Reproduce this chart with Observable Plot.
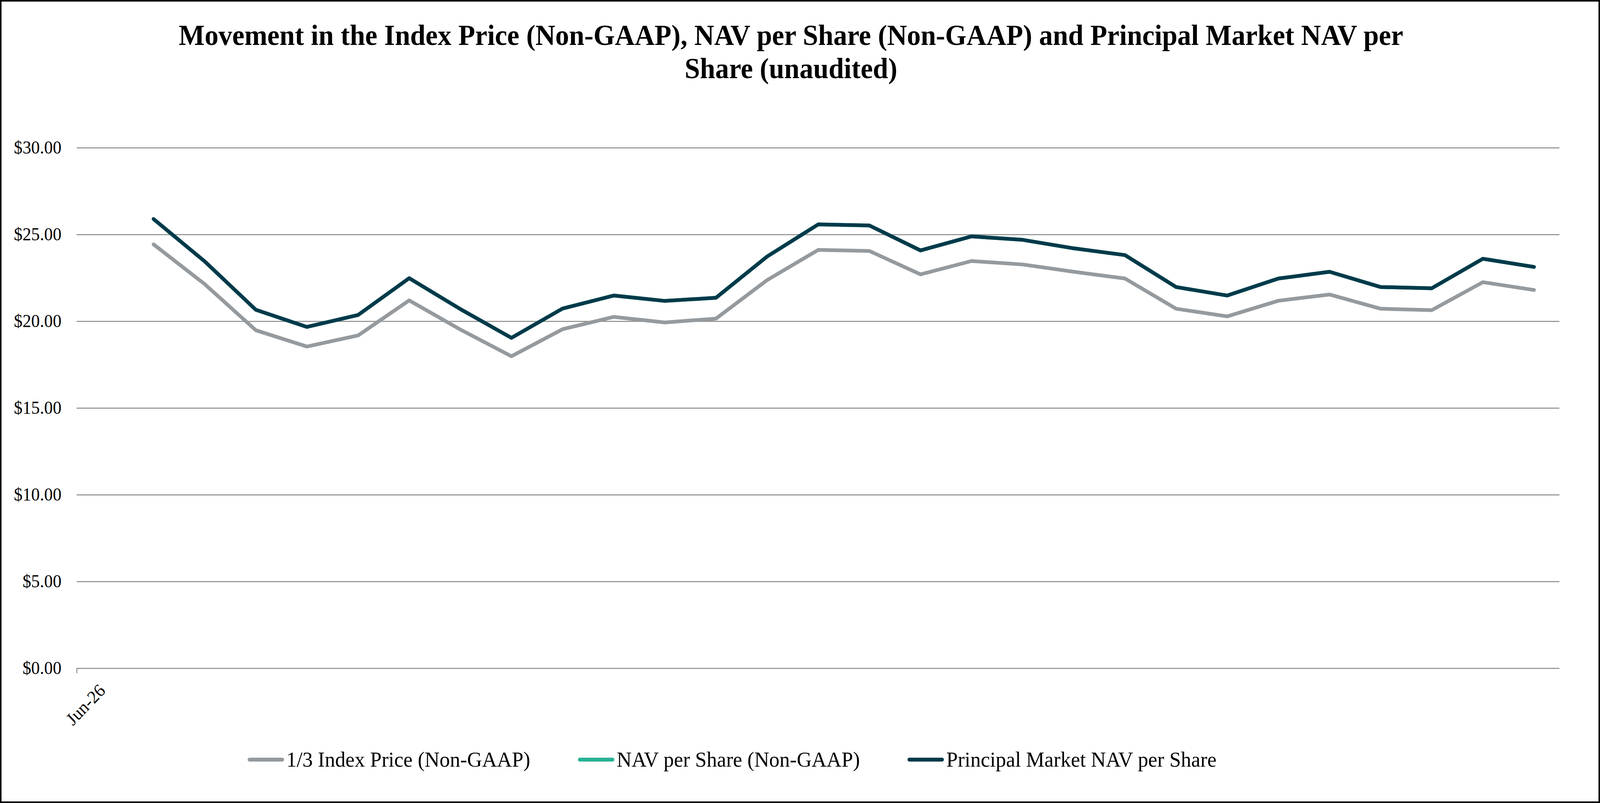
<!DOCTYPE html>
<html>
<head>
<meta charset="utf-8">
<script src="https://cdn.jsdelivr.net/npm/d3@7"></script>
<script src="https://cdn.jsdelivr.net/npm/@observablehq/plot@0.6"></script>
<style>
  html, body { margin: 0; padding: 0; background: #fff; overflow: hidden; }
  #frame { position: relative; width: 4258px; height: 2055px; box-sizing: border-box; border: 4px solid #000; background: #fff; overflow: hidden; font-family: "Liberation Serif", "Times New Roman", serif; transform-origin: 0 0; }
  #title { position: absolute; left: 0; top: 44px; width: 4202px; text-align: center; font-weight: bold; font-size: 73.2px; line-height: 85px; color: #000; }
  #chart { position: absolute; left: 0; top: 296px; }
  #legend { position: absolute; left: 655px; top: 1910px; display: flex; align-items: center; font-size: 55px; line-height: 60px; color: #000; white-space: nowrap; }
  .item { display: flex; align-items: center; margin-right: 127px; }
  .sw { display: inline-block; width: 97px; height: 10px; border-radius: 5px; margin-right: 6px; }
</style>
</head>
<body>
<div id="frame">
  <div id="title">Movement in the Index Price (Non-GAAP), NAV per Share (Non-GAAP) and Principal Market NAV per<br>Share (unaudited)</div>
  <div id="chart"></div>
  <div id="legend"></div>
</div>
<script>
// Category slots on the x axis (period 0 carries the only label)
const periods = [0, 1, 2, 3, 4, 5, 6, 7, 8, 9, 10, 11, 12, 13, 14, 15, 16, 17, 18, 19, 20, 21, 22, 23, 24, 25, 26, 27, 28];
const xTickPeriods = [0];
const xTickLabels = ["Jun-26"];
const dataPeriods = [1, 2, 3, 4, 5, 6, 7, 8, 9, 10, 11, 12, 13, 14, 15, 16, 17, 18, 19, 20, 21, 22, 23, 24, 25, 26, 27, 28];

// Series values (USD)
const indexPrice = [24.44, 22.15, 19.49, 18.55, 19.19, 21.21, 19.53, 17.99, 19.55, 20.26, 19.94, 20.16, 22.38, 24.12, 24.06, 22.71, 23.48, 23.28, 22.86, 22.47, 20.73, 20.29, 21.19, 21.55, 20.73, 20.65, 22.26, 21.81];
const navPerShare = [25.90, 23.46, 20.67, 19.68, 20.37, 22.49, 20.71, 19.05, 20.74, 21.49, 21.18, 21.36, 23.74, 25.59, 25.53, 24.09, 24.90, 24.70, 24.21, 23.82, 21.98, 21.49, 22.47, 22.86, 21.98, 21.91, 23.61, 23.14];
const principalNav = [25.90, 23.46, 20.67, 19.68, 20.37, 22.49, 20.71, 19.05, 20.74, 21.49, 21.18, 21.36, 23.74, 25.59, 25.53, 24.09, 24.90, 24.70, 24.21, 23.82, 21.98, 21.49, 22.47, 22.86, 21.98, 21.91, 23.61, 23.14];

const seriesNames = ["1/3 Index Price (Non-GAAP)", "NAV per Share (Non-GAAP)", "Principal Market NAV per Share"];
const seriesColors = ["#959a9e", "#26b294", "#003a4a"];
const yTicks = [0, 5, 10, 15, 20, 25, 30];

const seriesValues = [indexPrice, navPerShare, principalNav];
const rows = seriesValues.flatMap((vals, s) => vals.map((v, i) => ({period: dataPeriods[i], value: v, series: seriesNames[s]})));

const grid = "#898989";

const chart = Plot.plot({
  width: 4250,
  height: 1580,
  marginLeft: 200,
  marginRight: 104,
  marginTop: 78,
  marginBottom: 170,
  style: {fontFamily: "Liberation Serif, Times New Roman, serif", fontSize: "46px", background: "#fff", color: "#000"},
  x: {type: "linear", domain: [periods[0] - 0.5, periods[periods.length - 1] + 0.5]},
  y: {domain: [yTicks[0], yTicks[yTicks.length - 1]]},
  color: {domain: seriesNames, range: seriesColors},
  marks: [
    Plot.ruleY(yTicks, {stroke: grid, strokeWidth: 2.3}),
    Plot.axisY({ticks: yTicks, tickFormat: d3.format("$.2f"), tickSize: 0, tickPadding: 41, fontSize: 46, label: null}),
    Plot.axisX({ticks: [periods[0] - 0.5], tickFormat: () => "", tickSize: 13, stroke: grid, strokeWidth: 2.3, label: null}),
    Plot.axisX({ticks: xTickPeriods, tickFormat: d => xTickLabels[xTickPeriods.indexOf(d)], tickRotate: -45, tickSize: 0, tickPadding: 49, fontSize: 46, label: null}),
    Plot.line(rows, {x: "period", y: "value", z: "series", stroke: "series", strokeWidth: 9.5, strokeLinecap: "round", strokeLinejoin: "round"})
  ]
});
document.getElementById("chart").appendChild(chart);

const legend = document.getElementById("legend");
seriesNames.forEach((name, i) => {
  const item = document.createElement("div");
  item.className = "item";
  const sw = document.createElement("span");
  sw.className = "sw";
  sw.style.background = seriesColors[i];
  const label = document.createElement("span");
  label.textContent = name;
  item.appendChild(sw);
  item.appendChild(label);
  legend.appendChild(item);
});

// The viewport may be narrower than the 4258px design; fit the frame to it.
function fit() {
  const sx = Math.min(1, window.innerWidth / 4258);
  const sy = Math.min(1, window.innerHeight / 2055);
  document.getElementById("frame").style.transform = "scale(" + sx + "," + sy + ")";
}
fit();
window.addEventListener("resize", fit);
</script>
</body>
</html>
